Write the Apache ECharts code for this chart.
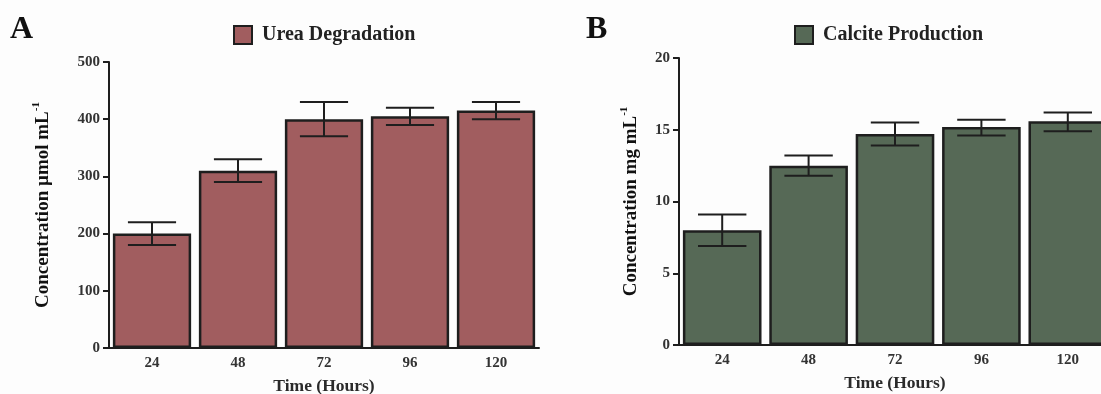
<!DOCTYPE html>
<html>
<head>
<meta charset="utf-8">
<script src="https://cdn.jsdelivr.net/npm/echarts@6/dist/echarts.min.js"></script>
<style>
  html, body { margin: 0; padding: 0; background: #fdfdfd; }
  #chart { width: 1101px; height: 394px; }
</style>
</head>
<body>
<div id="chart"></div>
<script>
// data
var hours = ['24', '48', '72', '96', '120'];
var ureaMean = [200, 310, 400, 405, 415];
var ureaLow = [180, 290, 370, 390, 400];
var ureaHigh = [220, 330, 430, 420, 430];
var calciteMean = [8.0, 12.5, 14.7, 15.2, 15.6];
var calciteLow = [6.9, 11.8, 13.9, 14.6, 14.9];
var calciteHigh = [9.1, 13.2, 15.5, 15.7, 16.2];

var font = 'Liberation Serif';
var ink = '#1e1e1e';

function errData(low, high) {
	return low.map(function (v, i) { return [i, v, high[i]]; });
}

function errSeries(axisIdx, low, high) {
	return {
		type: 'custom',
		xAxisIndex: axisIdx,
		yAxisIndex: axisIdx,
		z: 5,
		data: errData(low, high),
		renderItem: function (params, api) {
			var lo = api.coord([api.value(0), api.value(1)]);
			var hi = api.coord([api.value(0), api.value(2)]);
			var half = api.size([1, 0])[0] * 0.28;
			var st = { stroke: ink, lineWidth: 2 };
			return {
				type: 'group',
				children: [
					{ type: 'line', shape: { x1: lo[0], y1: lo[1], x2: hi[0], y2: hi[1] }, style: st },
					{ type: 'line', shape: { x1: hi[0] - half, y1: hi[1], x2: hi[0] + half, y2: hi[1] }, style: st },
					{ type: 'line', shape: { x1: lo[0] - half, y1: lo[1], x2: lo[0] + half, y2: lo[1] }, style: st }
				]
			};
		}
	};
}

function xAx(idx) {
	return {
		type: 'category',
		gridIndex: idx,
		data: hours,
		name: 'Time (Hours)',
		nameLocation: 'middle',
		nameGap: 29,
		nameTextStyle: { fontFamily: font, fontWeight: 'bold', fontSize: 17.5, color: '#2a2a2a' },
		axisLine: { lineStyle: { color: ink, width: 2 } },
		axisTick: { alignWithLabel: true, length: 5, lineStyle: { color: ink, width: 2 } },
		axisLabel: { fontFamily: font, fontWeight: 'bold', fontSize: 15, color: '#333', margin: 8 }
	};
}

function yAx(idx, max, interval, unit, gap) {
	return {
		type: 'value',
		gridIndex: idx,
		min: 0,
		max: max,
		interval: interval,
		name: '{a|Concentration ' + unit + '}{s|-1}',
		nameLocation: 'middle',
		nameRotate: 90,
		nameGap: gap,
		nameTextStyle: {
			rich: {
				a: { fontFamily: font, fontWeight: 'bold', fontSize: 19, color: '#111', lineHeight: 22, verticalAlign: 'bottom' },
				s: { fontFamily: font, fontWeight: 'bold', fontSize: 11, color: '#111', lineHeight: 22, verticalAlign: 'top', padding: [0, 0, 8, 0] }
			}
		},
		splitLine: { show: false },
		axisLine: { show: true, lineStyle: { color: ink, width: 2 } },
		axisTick: { show: true, length: 6, lineStyle: { color: ink, width: 2 } },
		axisLabel: { fontFamily: font, fontWeight: 'bold', fontSize: 15, color: '#333', margin: 9 }
	};
}

function legendAt(name, x) {
	return {
		data: [name],
		left: x, top: 25,
		padding: 0,
		itemWidth: 18, itemHeight: 18,
		icon: 'rect',
		textStyle: { fontFamily: font, fontWeight: 'bold', fontSize: 20, color: '#222', padding: [0, 0, 0, 5] }
	};
}

var chart = echarts.init(document.getElementById('chart'));
chart.setOption({
	backgroundColor: '#fdfdfd',
	animation: false,
	graphic: [
		{ type: 'text', left: 10, top: 14, style: { text: 'A', font: 'bold 32px "Liberation Serif"', fill: '#111' } },
		{ type: 'text', left: 586, top: 14, style: { text: 'B', font: 'bold 32px "Liberation Serif"', fill: '#111' } }
	],
	legend: [legendAt('Urea Degradation', 233), legendAt('Calcite Production', 794)],
	grid: [
		{ left: 109, top: 62, width: 430, height: 286, outerBoundsMode: 'none', containLabel: false },
		{ left: 679, top: 58, width: 432, height: 287, outerBoundsMode: 'none', containLabel: false }
	],
	xAxis: [xAx(0), xAx(1)],
	yAxis: [yAx(0, 500, 100, 'µmol mL', 56), yAx(1, 20, 5, 'mg mL', 38)],
	series: [
		{
			name: 'Urea Degradation',
			type: 'bar',
			xAxisIndex: 0, yAxisIndex: 0,
			data: ureaMean,
			barCategoryGap: '9%',
			itemStyle: { color: '#a15d5f', borderColor: ink, borderWidth: 2.5 }
		},
		errSeries(0, ureaLow, ureaHigh),
		{
			name: 'Calcite Production',
			type: 'bar',
			xAxisIndex: 1, yAxisIndex: 1,
			data: calciteMean,
			barCategoryGap: '9%',
			itemStyle: { color: '#566956', borderColor: ink, borderWidth: 2.5 }
		},
		errSeries(1, calciteLow, calciteHigh)
	]
});
</script>
</body>
</html>
